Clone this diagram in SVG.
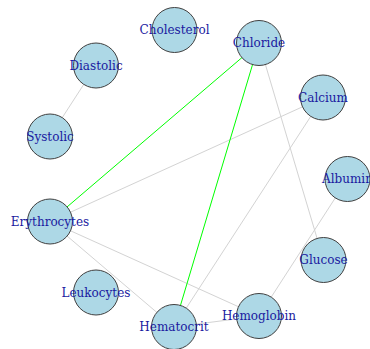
<svg xmlns="http://www.w3.org/2000/svg" width="370" height="349" viewBox="0 0 370 349">
  <style>
    .edge { stroke: #d3d3d3; stroke-width: 1; fill: none; }
    .edge.hl { stroke: #00ff00; }
    .node circle { fill: #add8e6; stroke: #404040; stroke-width: 1; }
    .node text { font-family: "DejaVu Serif", serif; font-size: 12px; fill: #1a1aa0; text-anchor: middle; dominant-baseline: central; }
  </style>
  <rect width="370" height="349" fill="#ffffff"/>
  <g id="edges">
    <line class="edge" x1="96" y1="65.5" x2="50" y2="136.5"/>
    <line class="edge" x1="259" y1="43" x2="323.5" y2="260"/>
    <line class="edge" x1="323" y1="97.5" x2="50" y2="221.5"/>
    <line class="edge" x1="323" y1="97.5" x2="174" y2="327"/>
    <line class="edge" x1="347.5" y1="179" x2="259" y2="316"/>
    <line class="edge" x1="50" y1="221.5" x2="259" y2="316"/>
    <line class="edge" x1="50" y1="221.5" x2="174" y2="327"/>
    <line class="edge" x1="174" y1="327" x2="259" y2="316"/>
    <line class="edge hl" x1="259" y1="43" x2="50" y2="221.5"/>
    <line class="edge hl" x1="259" y1="43" x2="174" y2="327"/>
  </g>
  <g id="node-cholesterol" class="node"><circle cx="174.5" cy="30" r="22.5"/><text x="174.5" y="30">Cholesterol</text></g>
  <g id="node-chloride" class="node"><circle cx="259" cy="43" r="22.5"/><text x="259" y="43">Chloride</text></g>
  <g id="node-diastolic" class="node"><circle cx="96" cy="65.5" r="22.5"/><text x="96" y="65.5">Diastolic</text></g>
  <g id="node-calcium" class="node"><circle cx="323" cy="97.5" r="22.5"/><text x="323" y="97.5">Calcium</text></g>
  <g id="node-systolic" class="node"><circle cx="50" cy="136.5" r="22.5"/><text x="50" y="136.5">Systolic</text></g>
  <g id="node-albumin" class="node"><circle cx="347.5" cy="179" r="22.5"/><text x="347.5" y="179">Albumin</text></g>
  <g id="node-erythrocytes" class="node"><circle cx="50" cy="221.5" r="22.5"/><text x="50" y="221.5">Erythrocytes</text></g>
  <g id="node-glucose" class="node"><circle cx="323.5" cy="260" r="22.5"/><text x="323.5" y="260">Glucose</text></g>
  <g id="node-leukocytes" class="node"><circle cx="96" cy="292.5" r="22.5"/><text x="96" y="292.5">Leukocytes</text></g>
  <g id="node-hemoglobin" class="node"><circle cx="259" cy="316" r="22.5"/><text x="259" y="316">Hemoglobin</text></g>
  <g id="node-hematocrit" class="node"><circle cx="174" cy="327" r="22.5"/><text x="174" y="327">Hematocrit</text></g>
</svg>
